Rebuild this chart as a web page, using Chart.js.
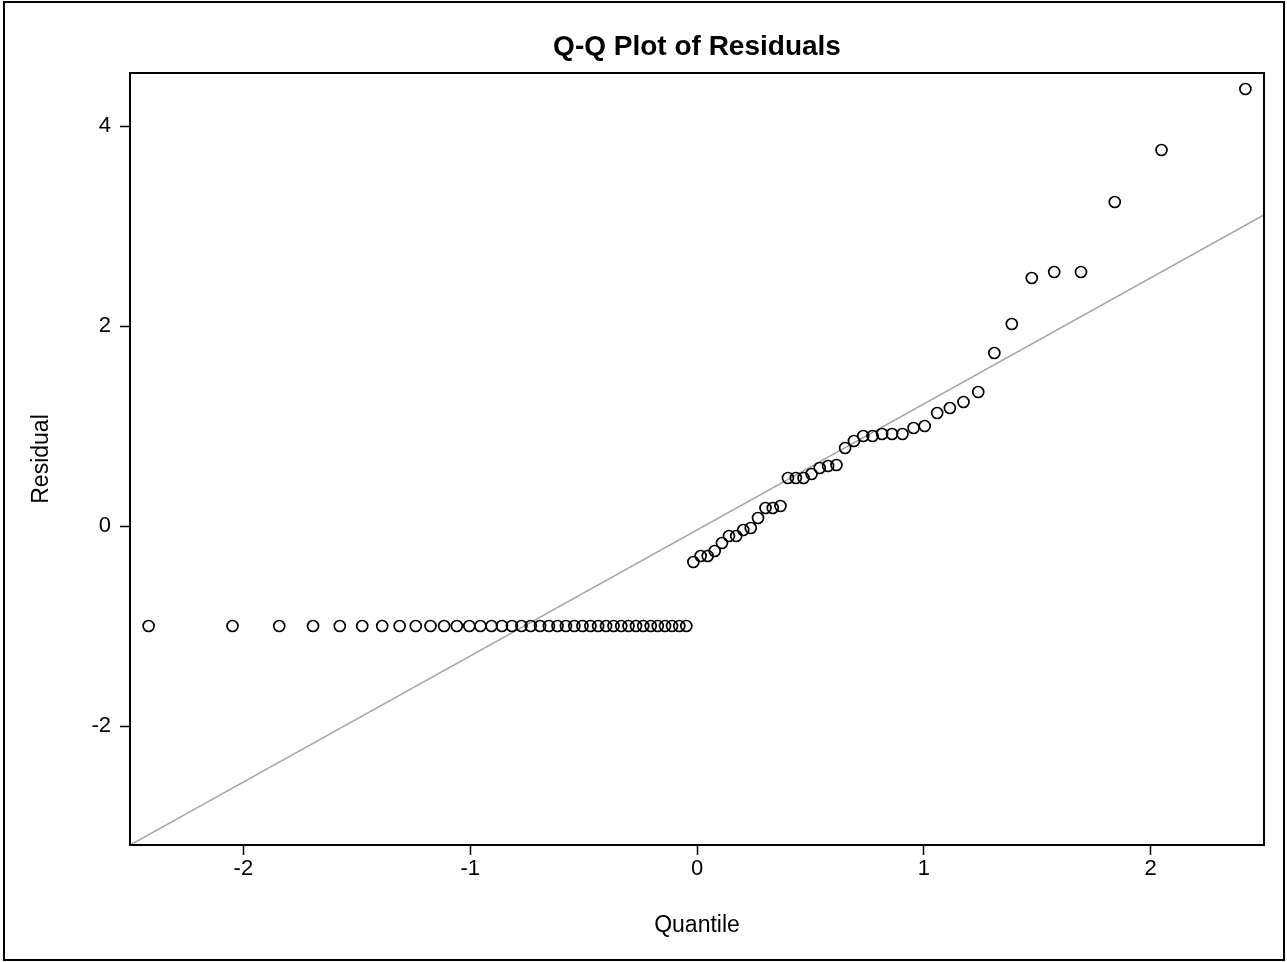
<!DOCTYPE html>
<html lang="en">
<head>
<meta charset="UTF-8">
<title>Q-Q Plot of Residuals</title>
<style>
  body { margin: 0; background: #fff; }
  #wrap { width: 1287px; height: 962px; position: relative; }
</style>
</head>
<body>
<script src="https://cdn.jsdelivr.net/npm/chart.js"></script>
<div id="wrap">
  <canvas id="qq"></canvas>
</div>
<script>
// normal quantiles (x)
var quantiles = [
  -2.418, -2.048, -1.842, -1.693, -1.575, -1.476, -1.388, -1.311, -1.240, -1.175,
  -1.115, -1.059, -1.004, -0.955, -0.906, -0.860, -0.816, -0.774, -0.733, -0.692,
  -0.653, -0.615, -0.578, -0.541, -0.505, -0.470, -0.436, -0.401, -0.368, -0.334,
  -0.302, -0.269, -0.237, -0.204, -0.173, -0.141, -0.110, -0.078, -0.047, -0.016,
  0.016, 0.047, 0.078, 0.110, 0.141, 0.173, 0.204, 0.237, 0.269, 0.302,
  0.334, 0.368, 0.401, 0.436, 0.470, 0.505, 0.541, 0.578, 0.615, 0.653,
  0.692, 0.733, 0.774, 0.816, 0.860, 0.906, 0.955, 1.004, 1.059, 1.115,
  1.175, 1.240, 1.311, 1.388, 1.476, 1.575, 1.693, 1.842, 2.048, 2.418
]
var residuals = [
  -1.00, -1.00, -1.00, -1.00, -1.00, -1.00, -1.00, -1.00, -1.00, -1.00,
  -1.00, -1.00, -1.00, -1.00, -1.00, -1.00, -1.00, -1.00, -1.00, -1.00,
  -1.00, -1.00, -1.00, -1.00, -1.00, -1.00, -1.00, -1.00, -1.00, -1.00,
  -1.00, -1.00, -1.00, -1.00, -1.00, -1.00, -1.00, -1.00, -1.00,
  -0.36, -0.30, -0.30, -0.25, -0.17, -0.10, -0.10, -0.04, -0.02, 0.08,
  0.18, 0.18, 0.20, 0.48, 0.48, 0.48, 0.52, 0.58, 0.60, 0.61,
  0.78, 0.85, 0.90, 0.90, 0.92, 0.92, 0.92, 0.98, 1.00, 1.13,
  1.18, 1.24, 1.34, 1.73, 2.02, 2.48, 2.54, 2.54, 3.24, 3.76, 4.37
]
// reference line end points
var refLineX = [-2.5, 2.5]
var refLineY = [-3.19, 3.11]
// axis ticks
var xTicks = [-2, -1, 0, 1, 2]
var yTicks = [-2, 0, 2, 4]

var points = quantiles.map(function (q, i) { return {x: q, y: residuals[i]} })
var refLine = refLineX.map(function (v, i) { return {x: v, y: refLineY[i]} })

var FONT = '"Liberation Sans", Arial, sans-serif'

// white page, outer frame and box round the plot area
var framePlugin = {
  id: 'frame',
  beforeDraw: function (chart) {
    var ctx = chart.ctx
    ctx.save()
    ctx.fillStyle = '#fff'
    ctx.fillRect(0, 0, chart.width, chart.height)
    ctx.strokeStyle = '#000'
    ctx.lineWidth = 2
    ctx.strokeRect(4, 2, chart.width - 7, chart.height - 4)
    ctx.restore()
  },
  afterDraw: function (chart) {
    var a = chart.chartArea
    var ctx = chart.ctx
    ctx.save()
    ctx.strokeStyle = '#000'
    ctx.lineWidth = 2
    ctx.strokeRect(a.left, a.top, a.right - a.left, a.bottom - a.top)
    ctx.restore()
  }
}

new Chart(document.getElementById('qq'), {
  type: 'scatter',
  data: {
    datasets: [
      {
        label: 'Residual',
        data: points,
        pointStyle: 'circle',
        pointRadius: 5.5,
        pointHoverRadius: 5.5,
        borderColor: '#000',
        borderWidth: 1.7,
        backgroundColor: 'rgba(0,0,0,0)',
        order: 1
      },
      {
        label: 'Reference',
        data: refLine,
        showLine: true,
        pointRadius: 0,
        borderColor: '#a0a0a0',
        borderWidth: 1.5,
        order: 2
      }
    ]
  },
  options: {
    responsive: true,
    maintainAspectRatio: false,
    animation: false,
    layout: { padding: { left: 0, right: 23, top: 0, bottom: 0 } },
    plugins: {
      legend: { display: false },
      tooltip: { enabled: false },
      title: { display: false }
    },
    scales: {
      // top axis only carries the plot title, centred over the plot area
      top: {
        type: 'linear',
        position: 'top',
        min: -2.5,
        max: 2.5,
        afterFit: function (s) { s.height = 73 },
        grid: { display: false },
        border: { display: false },
        ticks: { display: false },
        title: {
          display: true,
          text: 'Q-Q Plot of Residuals',
          color: '#000',
          font: { family: FONT, size: 28, weight: 'bold' },
          padding: { top: 30, bottom: 0 }
        }
      },
      x: {
        type: 'linear',
        min: -2.5,
        max: 2.5,
        afterBuildTicks: function (s) { s.ticks = xTicks.map(function (v) { return {value: v} }) },
        afterFit: function (s) { s.height = 117 },
        grid: { drawOnChartArea: false, drawTicks: true, tickLength: 10, tickWidth: 1.5, tickColor: '#000' },
        border: { display: true, color: '#000', width: 2 },
        ticks: { color: '#000', padding: 1, maxRotation: 0, font: { family: FONT, size: 22 } },
        title: {
          display: true,
          text: 'Quantile',
          color: '#000',
          font: { family: FONT, size: 23 },
          padding: { top: 0, bottom: 23 }
        }
      },
      y: {
        type: 'linear',
        min: -3.19,
        max: 4.53,
        afterBuildTicks: function (s) { s.ticks = yTicks.map(function (v) { return {value: v} }) },
        afterFit: function (s) { s.width = 130 },
        grid: { drawOnChartArea: false, drawTicks: true, tickLength: 10, tickWidth: 1.5, tickColor: '#000' },
        border: { display: true, color: '#000', width: 2 },
        ticks: { color: '#000', padding: 9, font: { family: FONT, size: 22 } },
        title: {
          display: true,
          text: 'Residual',
          color: '#000',
          font: { family: FONT, size: 23 },
          padding: { top: 28, bottom: 0 }
        }
      }
    }
  },
  plugins: [framePlugin]
})
</script>
</body>
</html>
